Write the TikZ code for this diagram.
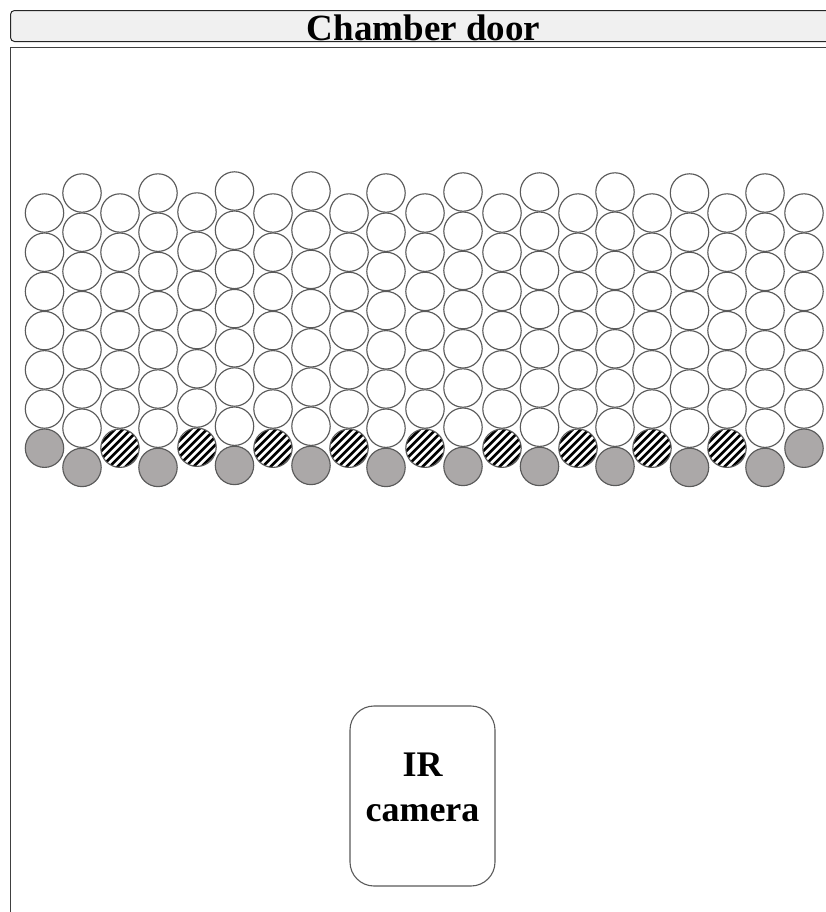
\documentclass[tikz,border=0pt]{standalone}
\usepackage{fontspec}
\setmainfont{Liberation Serif}
\definecolor{hdrfill}{HTML}{F0F0F0}
\definecolor{ringcol}{HTML}{5A5A5A}
\definecolor{greyfill}{HTML}{ABA8A8}
\tikzset{
  ball/.style={circle,draw=ringcol,line width=1.15bp,minimum size=38.4bp,inner sep=0pt,outer sep=0pt,fill=white},
  greyball/.style={ball,fill=greyfill},
  hatchball/.style={ball,path picture={
    \foreach \k in {-6,...,6}{
      \draw[black,line width=2.6bp]
        ([xshift=\k*8bp-30bp,yshift=-30bp]path picture bounding box.center) --
        ([xshift=\k*8bp+30bp,yshift=30bp]path picture bounding box.center);
    }}},
  header/.style={draw=black!85,line width=1bp,fill=hdrfill,rounded corners=4bp},
  frameline/.style={draw=black!75,line width=1.1bp},
  title/.style={font=\bfseries\fontsize{37bp}{37bp}\selectfont,inner sep=0pt,anchor=base},
  camerabox/.style={draw=ringcol,line width=1.1bp,rounded corners=24bp,minimum width=145bp,minimum height=180bp,inner sep=0pt},
  camlabel/.style={font=\bfseries\fontsize{36bp}{40bp}\selectfont,inner sep=0pt,anchor=base}
}
\begin{document}
\begin{tikzpicture}[x=1bp,y=-1bp]
\path[use as bounding box] (0,0) rectangle (826,912);
\clip (0,0) rectangle (826,912);
\path[fill=white] (0,0) rectangle (826,912);
\draw[header] (10.5,41.5) rectangle (860,10.5);
\node[title] (titletext) at (423.5,40) {Chamber door};
\coordinate (ftl) at (10.5,47.5);
\coordinate (fbl) at (10.5,912);
\coordinate (ftr) at (826,47.5);
\draw[frameline] (fbl) -- (ftl) -- (ftr);
% columns: index / x / top y / number of balls / kind of bottom ball
\foreach \i/\cx/\cy/\n/\kind in {
 0/44.5/213/7/greyball,1/82/193/8/greyball,2/120/213/7/hatchball,3/158/193/8/greyball,
 4/197/212/7/hatchball,5/234.5/191/8/greyball,6/273/213/7/hatchball,7/311/191/8/greyball,
 8/349/213/7/hatchball,9/386/193/8/greyball,10/425/213/7/hatchball,11/463/192/8/greyball,
 12/502/213/7/hatchball,13/539.5/192/8/greyball,14/578/213/7/hatchball,15/615/192/8/greyball,
 16/652/213/7/hatchball,17/689.5/193/8/greyball,18/727/213/7/hatchball,19/765/193/8/greyball,
 20/804/213/7/greyball}{
  \foreach \r in {1,...,\n}{
    \pgfmathsetmacro{\ry}{\cy+(\r-1)*39.2}
    \ifnum\r=\n
      \node[\kind] (b\i-\r) at (\cx,\ry) {};
    \else
      \node[ball] (b\i-\r) at (\cx,\ry) {};
    \fi
  }
}
\node[camerabox] (camera) at (422.5,796) {};
\node[camlabel] (irtext) at (422.5,776) {IR};
\node[camlabel] (camtext) at (422.5,821) {camera};
\end{tikzpicture}
\end{document}
